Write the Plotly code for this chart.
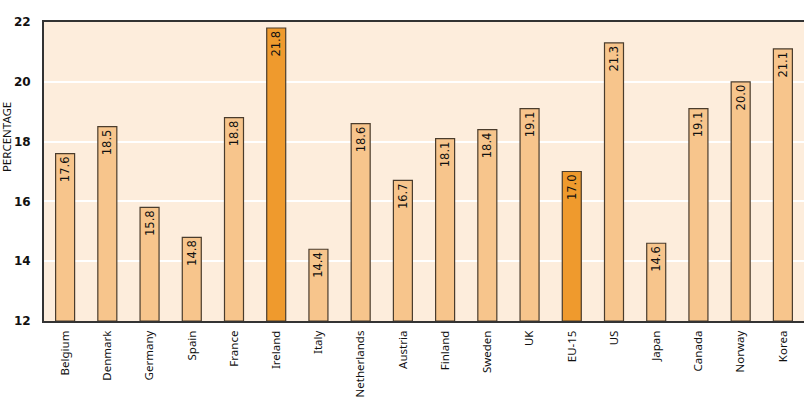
import plotly.graph_objects as go

countries = ["Belgium", "Denmark", "Germany", "Spain", "France", "Ireland", "Italy",
             "Netherlands", "Austria", "Finland", "Sweden", "UK", "EU-15", "US",
             "Japan", "Canada", "Norway", "Korea"]
values = [17.6, 18.5, 15.8, 14.8, 18.8, 21.8, 14.4, 18.6, 16.7, 18.1, 18.4, 19.1,
          17.0, 21.3, 14.6, 19.1, 20.0, 21.1]
highlight = ["Ireland", "EU-15"]
y_ticks = [12, 14, 16, 18, 20, 22]
BASE = 12

LIGHT = "#F7C58C"
DARK = "#EF9A2D"
colors = [DARK if c in highlight else LIGHT for c in countries]

fig = go.Figure(go.Bar(
    x=countries, y=[v - BASE for v in values], base=BASE,
    marker=dict(color=colors, line=dict(color="#4a3c2c", width=1.2)),
    text=[f"{v:.1f}" for v in values],
    textposition="inside", insidetextanchor="end", textangle=-90,
    textfont=dict(family="DejaVu Sans", size=11.5, color="#111111"),
    cliponaxis=False,
))

fig.update_layout(
    width=804, height=404,
    margin=dict(l=44, r=0, t=22, b=83),
    paper_bgcolor="white", plot_bgcolor="#FDEDDC",
    bargap=0.55, showlegend=False,
    font=dict(family="Noto Sans", color="#111111"),
    uniformtext=dict(minsize=11.5, mode="show"),
)
fig.update_xaxes(
    tickangle=-90, tickfont=dict(size=11.5), ticks="", ticklabelstandoff=3,
    showline=True, linecolor="#333333", linewidth=2, mirror=True,
    range=[-0.5, 17.5],
)
fig.update_yaxes(
    range=[12, 22], tickvals=y_ticks, ticks="",
    tickfont=dict(family="DejaVu Sans", size=12, weight="bold"), ticklabelstandoff=9,
    showgrid=True, gridcolor="white", gridwidth=2,
    showline=True, linecolor="#333333", linewidth=2,
    zeroline=False,
)
fig.add_annotation(
    text="PERCENTAGE", textangle=-90, xref="paper", yref="y",
    x=0, y=18.15, xanchor="center", yanchor="middle", xshift=-38,
    showarrow=False, font=dict(size=11.5, color="#111111"),
)
fig.write_html("out.html")
